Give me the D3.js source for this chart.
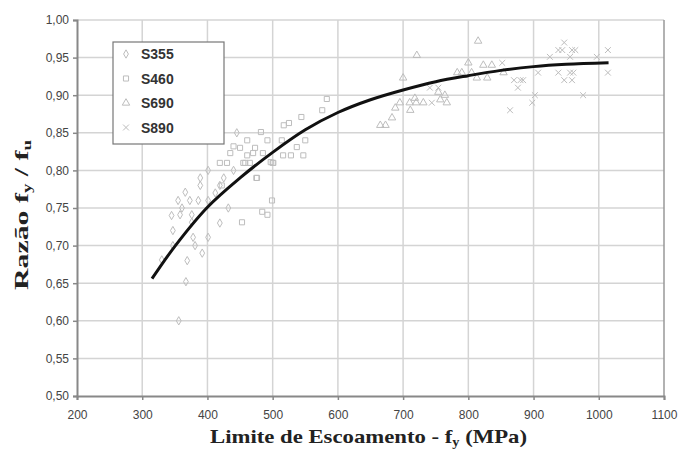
<!DOCTYPE html>
<html>
<head>
<meta charset="utf-8">
<script src="https://cdn.jsdelivr.net/npm/d3@7"></script>
<style>
  body { margin: 0; background: #fff; }
  .tick text { font-family: Arial, "Liberation Sans", sans-serif; font-size: 12px; fill: #444; }
  .axis-label { font-family: "Liberation Serif", "Times New Roman", serif; font-weight: bold; font-size: 19px; fill: #222; }
  .leg text { font-family: Arial, "Liberation Sans", sans-serif; font-weight: bold; font-size: 14px; fill: #333; }
</style>
</head>
<body>
<div id="grafico"></div>
<script>
// pontos [fy (MPa), razão fy/fu]
const s355 = [[356,0.60],[367,0.652],[330,0.681],[369,0.68],[392,0.69],[381,0.70],[401,0.711],
  [347,0.70],[347,0.72],[419,0.73],[378,0.711],[445,0.85],[401,0.80],[389,0.79],[389,0.78],
  [366,0.771],[355,0.76],[373,0.76],[386,0.76],[361,0.75],[401,0.76],[358,0.741],[376,0.741],
  [376,0.731],[419,0.78],[432,0.75],[412,0.77],[440,0.80],[425,0.79],[345,0.74]];
const s460 = [[583,0.895],[576,0.88],[544,0.871],[525,0.863],[517,0.86],[482,0.851],[461,0.84],
  [492,0.84],[514,0.84],[550,0.84],[537,0.831],[473,0.83],[516,0.82],[528,0.82],[547,0.82],
  [497,0.811],[501,0.81],[461,0.82],[458,0.81],[475,0.79],[499,0.76],[484,0.745],[492,0.741],
  [453,0.731],[476,0.79],[422,0.78],[435,0.823],[470,0.823],[485,0.823],[419,0.81],[430,0.81],
  [455,0.81],[465,0.81],[500,0.81],[440,0.832],[450,0.83]];
const s690 = [[721,0.953],[800,0.943],[823,0.94],[836,0.94],[700,0.923],[783,0.93],[813,0.923],
  [829,0.923],[754,0.904],[767,0.89],[695,0.89],[710,0.89],[720,0.89],[731,0.89],[688,0.883],
  [711,0.88],[683,0.87],[665,0.86],[673,0.86],[764,0.90],[757,0.894],[718,0.896],[815,0.972],
  [790,0.93],[854,0.93],[805,0.93]];
const s890 = [[947,0.97],[938,0.96],[944,0.96],[959,0.96],[964,0.96],[1014,0.96],[925,0.951],
  [956,0.951],[997,0.951],[852,0.943],[907,0.93],[938,0.93],[956,0.93],[961,0.93],[1014,0.93],
  [947,0.92],[959,0.92],[880,0.92],[884,0.92],[876,0.91],[902,0.90],[898,0.89],[864,0.88],
  [976,0.90],[744,0.89],[741,0.91],[754,0.91],[870,0.92]];

// curva de ajuste
const curvaX = [315, 350, 400, 450, 500, 550, 600, 650, 700, 750, 800, 850, 900, 950, 1015];
const curvaY = [0.656, 0.699, 0.751, 0.790, 0.824, 0.854, 0.877, 0.894, 0.907, 0.918, 0.926, 0.933, 0.938, 0.941, 0.943];

const xTicks = [200, 300, 400, 500, 600, 700, 800, 900, 1000, 1100];
const yTicks = [0.50, 0.55, 0.60, 0.65, 0.70, 0.75, 0.80, 0.85, 0.90, 0.95, 1.00];
const series = ["S355", "S460", "S690", "S890"];

const width = 683, height = 449;
const m = { left: 77, right: 19, top: 20, bottom: 53 };

const svg = d3.select("#grafico").append("svg")
  .attr("width", width)
  .attr("height", height);

const x = d3.scaleLinear().domain([200, 1100]).range([m.left, width - m.right]);
const y = d3.scaleLinear().domain([0.5, 1.0]).range([height - m.bottom, m.top]);

// grade
svg.append("g").selectAll("line").data(yTicks.slice(1)).enter().append("line")
  .attr("x1", x(200)).attr("x2", x(1100))
  .attr("y1", d => y(d)).attr("y2", d => y(d))
  .attr("stroke", "#d4d4d4").attr("stroke-width", 1.5);
svg.append("g").selectAll("line").data(xTicks.slice(1, -1)).enter().append("line")
  .attr("x1", d => x(d)).attr("x2", d => x(d))
  .attr("y1", y(0.5)).attr("y2", y(1.0))
  .attr("stroke", "#d4d4d4").attr("stroke-width", 1.5);
svg.append("line")
  .attr("x1", x(1100)).attr("x2", x(1100)).attr("y1", y(0.5)).attr("y2", y(1.0))
  .attr("stroke", "#999").attr("stroke-width", 1.5);

// eixos
const fmt = d3.format(".2f");
const ax = svg.append("g")
  .attr("transform", `translate(0,${y(0.5)})`)
  .call(d3.axisBottom(x).tickValues(xTicks).tickSize(4).tickPadding(10).tickFormat(d3.format("d")));
const ay = svg.append("g")
  .attr("transform", `translate(${x(200)},0)`)
  .call(d3.axisLeft(y).tickValues(yTicks).tickSize(4).tickPadding(4)
    .tickFormat(d => fmt(d).replace(".", ",")));
[ax, ay].forEach(g => {
  g.select(".domain").attr("stroke", "#888").attr("stroke-width", 2);
  g.selectAll(".tick line").attr("stroke", "#888").attr("stroke-width", 1.5);
});

// pontos
const cinza = "#bdbdbd";
const sym = {
  S355: d3.symbol().type(d3.symbolDiamond).size(20),
  S460: d3.symbol().type(d3.symbolSquare).size(26),
  S690: d3.symbol().type(d3.symbolTriangle).size(24),
  S890: d3.symbol().type(d3.symbolTimes).size(24)
};
const dados = { S355: s355, S460: s460, S690: s690, S890: s890 };
series.forEach(s => {
  svg.append("g").selectAll("path").data(dados[s]).enter().append("path")
    .attr("d", sym[s]())
    .attr("transform", d => `translate(${x(d[0])},${y(d[1])})`)
    .attr("fill", "none").attr("stroke", cinza).attr("stroke-width", 1);
});

// curva
const linha = d3.line().x(d => x(d[0])).y(d => y(d[1])).curve(d3.curveCatmullRom);
svg.append("path")
  .datum(d3.zip(curvaX, curvaY))
  .attr("d", linha)
  .attr("fill", "none").attr("stroke", "#111").attr("stroke-width", 3);

// legenda
const leg = svg.append("g").attr("class", "leg");
leg.append("rect")
  .attr("x", 113).attr("y", 42).attr("width", 111).attr("height", 102)
  .attr("fill", "#fff").attr("stroke", "#777").attr("stroke-width", 1.2);
series.forEach((s, i) => {
  const yy = 54 + i * 24.5;
  leg.append("path").attr("d", sym[s]())
    .attr("transform", `translate(126,${yy})`)
    .attr("fill", "none").attr("stroke", cinza);
  leg.append("text").attr("x", 141).attr("y", yy + 5).text(s);
});

// títulos dos eixos
const tx = svg.append("text").attr("class", "axis-label")
  .attr("x", 210).attr("y", 443)
  .attr("textLength", 317).attr("lengthAdjust", "spacingAndGlyphs");
tx.append("tspan").text("Limite de Escoamento - f");
tx.append("tspan").attr("font-size", 12).attr("dy", 3).text("y");
tx.append("tspan").attr("dy", -3).text(" (MPa)");

const ty = svg.append("text").attr("class", "axis-label")
  .attr("transform", "rotate(-90)")
  .attr("x", -290).attr("y", 28)
  .attr("textLength", 150).attr("lengthAdjust", "spacingAndGlyphs");
ty.append("tspan").text("Razão f");
ty.append("tspan").attr("font-size", 12).attr("dy", 3).text("y");
ty.append("tspan").attr("dy", -3).text(" / f");
ty.append("tspan").attr("font-size", 12).attr("dy", 3).text("u");
</script>
</body>
</html>
